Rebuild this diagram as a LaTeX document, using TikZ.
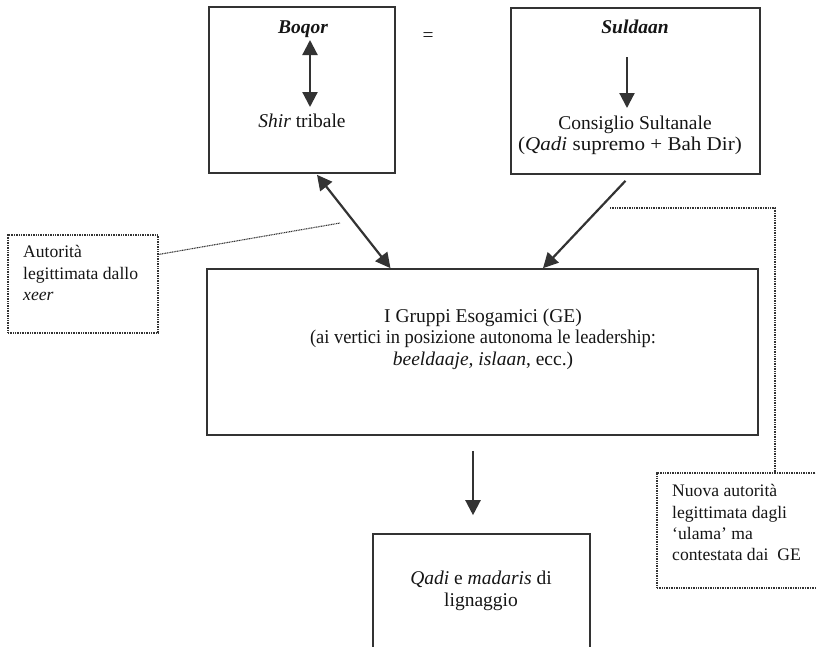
\documentclass[tikz,border=0pt]{standalone}
\usepackage{fontspec}
\usepackage{graphicx}
\setmainfont{Liberation Serif}
\usetikzlibrary{arrows.meta,calc}
\definecolor{ink}{HTML}{333333}
\definecolor{txt}{HTML}{151515}
\begin{document}
\begin{tikzpicture}[x=1pt,y=-1pt,
  every node/.style={font=\fontsize{19.5}{21.5}\selectfont, text=txt, inner sep=0pt},
  small/.style={font=\fontsize{17.6}{21.2}\selectfont},
  frame/.style={draw=ink, line width=1.6pt, inner sep=0pt},
  note/.style={draw=ink, line width=1.1pt, dash pattern=on 1pt off 0.7pt},
  link/.style={draw=ink, line width=2.2pt, -{Triangle[width=15pt,length=15pt]}},
  dlink/.style={draw=ink, line width=2.2pt, {Triangle[width=15pt,length=15pt]}-{Triangle[width=15pt,length=15pt]}},
  head/.style={font=\fontsize{19.5}{21.5}\selectfont\bfseries\itshape},
]
\useasboundingbox (0,0) rectangle (816,646);
\clip (0,0) rectangle (816,646);

% boxes
\node[frame, minimum width=186pt, minimum height=166pt] (boqor) at (302,90) {};
\node[frame, minimum width=249pt, minimum height=166pt] (suldaan) at (635.5,91) {};
\node[frame, minimum width=551pt, minimum height=166pt] (ge) at (482.5,352) {};
\node[frame, minimum width=217pt, minimum height=136pt] (low) at (481.5,602) {};
\node[note, minimum width=150pt, minimum height=98pt] (auth) at (83,284) {};
\node[note, minimum width=173pt, minimum height=115pt] (nuova) at (743.5,530.5) {};

% texts
\node[head, anchor=base] (boqorT) at (303,33) {Boqor};
\node[anchor=base] (shirT) at (302,127) {\textit{Shir} tribale};
\node (eq) at (428,37) {=};
\node[head, anchor=base] (suldaanT) at (635,33) {Suldaan};
\node[align=center, anchor=north] (consT) at (630,115.5)
  {\hspace*{10pt}Consiglio Sultanale\\\scalebox{1.08}[1]{(\textit{Qadi} supremo + Bah Dir)}};
\node[align=center, anchor=north] (geT) at (483,308.5)
  {I Gruppi Esogamici (GE)\\\scalebox{0.945}[1]{(ai vertici in posizione autonoma le leadership:}\\\textit{beeldaaje, islaan}, ecc.)};
\node[align=center, anchor=north] (lowT) at (481,571)
  {\textit{Qadi} e \textit{madaris} di\\lignaggio};
\node[small, align=left, anchor=north west] (authT) at (23,245.5)
  {Autorità\\legittimata dallo\\\textit{xeer}};
\node[small, align=left, anchor=north west] (nuovaT) at (672,484.5)
  {Nuova autorità\\legittimata dagli\\‘ulama’ ma\\contestata dai~ GE};

% inner arrows
\coordinate (bq1) at (310,40);
\coordinate (bq2) at (310,107);
\draw[dlink] (bq1) -- (bq2);
\coordinate (sd1) at (627,57);
\coordinate (sd2) at (627,108);
\draw[link] (sd1) -- (sd2);

% arrows between boxes
\draw[dlink] ($(boqor.south)+(15,1)$) -- ($(ge.north)+(-92,0)$);
\draw[link] ($(suldaan.south)+(-10,6)$) -- ($(ge.north)+(60.5,0)$);
\draw[link] ($(ge.south)+(-9.5,15)$) -- ($(low.north)+(-8.5,-18)$);

% leaders of the notes
\coordinate (authEnd) at (340,223);
\draw[note] ($(auth.north east)+(0,20)$) -- (authEnd);
\coordinate (nuovaStart) at (610,208);
\draw[note] (nuovaStart) -| ($(nuova.north)+(31.5,0)$);
\end{tikzpicture}
\end{document}
